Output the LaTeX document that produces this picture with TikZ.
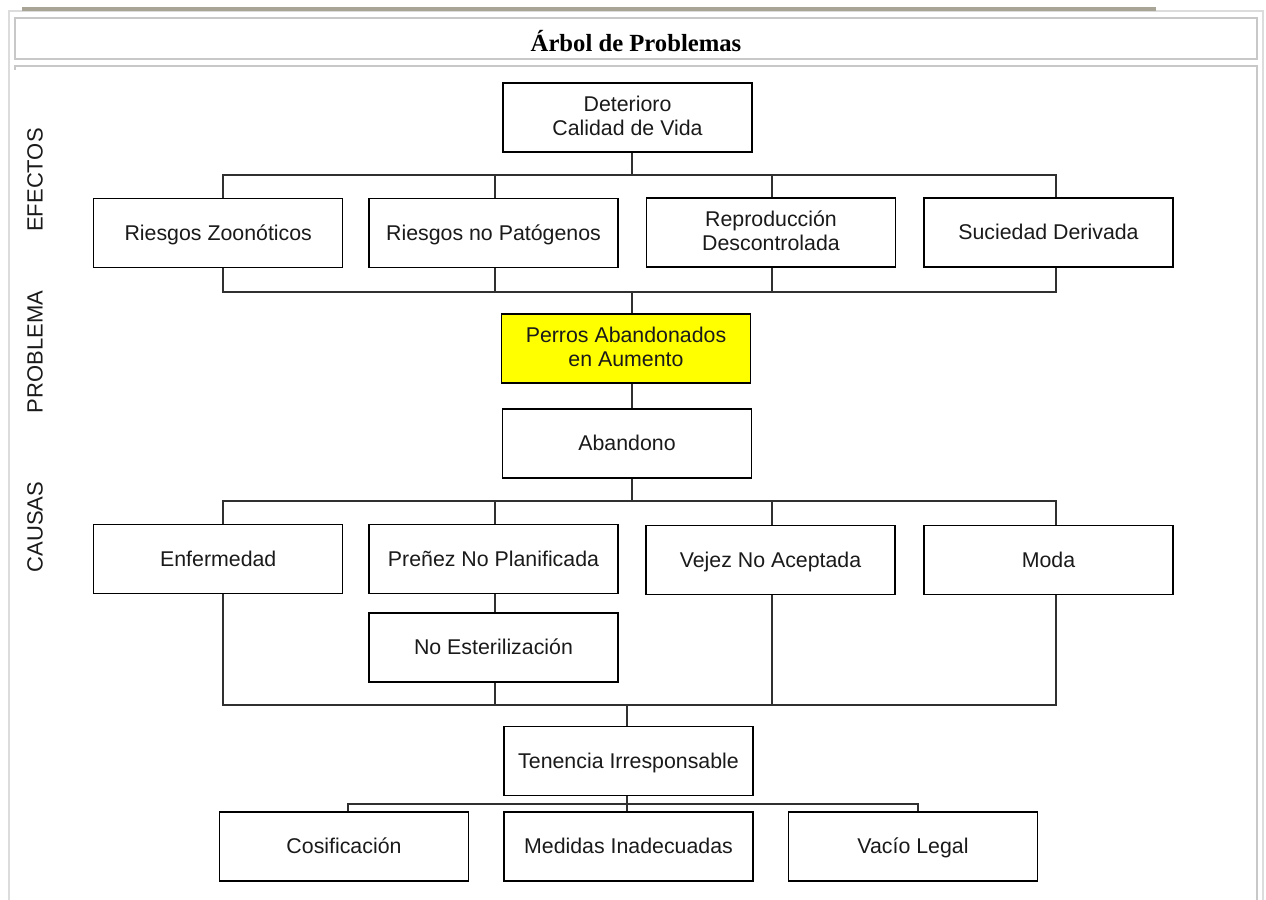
\documentclass[tikz,border=0pt]{standalone}
\usepackage{fontspec}
\setmainfont{Liberation Sans}
\newfontfamily\titlefont{Liberation Serif}
\definecolor{framegray}{HTML}{DCDCDC}
\definecolor{boxgray}{HTML}{C8C8C8}
\definecolor{bargray}{HTML}{A8A596}
\definecolor{linegray}{HTML}{303030}
\definecolor{txtgray}{HTML}{1A1A1A}
\definecolor{probyellow}{HTML}{FFFF00}
\newcommand{\mystrut}{\vphantom{Ág}}
\tikzset{
  bx/.style={draw=black, line width=0.85pt, fill=white, rectangle,
    minimum width=186.75pt, minimum height=51.75pt, inner sep=0pt,
    align=center, text=txtgray,
    execute at begin node=\mystrut, execute at end node=\mystrut,
    font=\fontsize{16}{18}\selectfont},
  prob/.style={bx, fill=probyellow},
  ln/.style={draw=linegray, line width=0.85pt},
  side/.style={rotate=90, text=txtgray, font=\fontsize{16.5}{18}\selectfont, inner sep=0pt},
  ttl/.style={font=\titlefont\bfseries\fontsize{18.5}{22}\selectfont, inner sep=0pt, text=black}
}
\begin{document}
\begin{tikzpicture}[x=0.75pt, y=-0.75pt]
\useasboundingbox (0,0) rectangle (1266,899);
% frames
\draw[framegray, line width=1.4pt] (9,905) -- (9,11) -- (1263,11) -- (1263,905);
\fill[bargray] (22,7) rectangle (1156,11);
\draw[boxgray, line width=1pt] (15,18) rectangle (1257,59);
\draw[boxgray, line width=1pt] (15,70) -- (15,66) -- (1257,66) -- (1257,905);
% title
\node[ttl, anchor=base] (title) at (636,52) {Árbol de Problemas};
% side labels
\node[side] (lefe) at (35,180) {EFECTOS};
\node[side] (lpro) at (35,352) {PROBLEMA};
\node[side] (lcau) at (35,527) {CAUSAS};
% x positions of connectors
\coordinate (vA) at (223,0);
\coordinate (vB) at (495,0);
\coordinate (vC) at (772,0);
\coordinate (vD) at (1056,0);
\coordinate (vS) at (632,0);
\coordinate (vT) at (627,0);
\coordinate (vL) at (348,0);
\coordinate (vR) at (918,0);
% hubs
\coordinate (hE1) at (632,175);
\coordinate (hE2) at (632,292);
\coordinate (hC1) at (632,501);
\coordinate (hC2) at (627,705);
\coordinate (hT) at (627,804);
% nodes
\node[bx] (det) at (627.5,117.5) {Deterioro\\Calidad de Vida};
\node[bx] (rz) at (218.25,233) {Riesgos Zoonóticos};
\node[bx] (rnp) at (493.5,233) {Riesgos no Patógenos};
\node[bx] (rep) at (771,232.5) {Reproducción\\Descontrolada};
\node[bx] (suc) at (1048.5,232.5) {Suciedad Derivada};
\node[prob] (per) at (626,348.5) {Perros Abandonados\\en Aumento};
\node[bx] (aba) at (627,443.5) {Abandono};
\node[bx] (enf) at (218.25,559) {Enfermedad};
\node[bx] (pre) at (493.5,559) {Preñez No Planificada};
\node[bx] (vej) at (770.5,560) {Vejez No Aceptada};
\node[bx] (mod) at (1048.5,560) {Moda};
\node[bx] (nes) at (493.5,647.5) {No Esterilización};
\node[bx] (ten) at (628.5,761) {Tenencia Irresponsable};
\node[bx] (cos) at (344,846.5) {Cosificación};
\node[bx] (med) at (628.5,846.5) {Medidas Inadecuadas};
\node[bx] (vac) at (913,846.5) {Vacío Legal};
% effects top
\draw[ln] (det.south -| vS) -- (hE1);
\draw[ln] (rz.north -| vA) -- (vA |- hE1) -- (vD |- hE1) -- (suc.north -| vD);
\draw[ln] (rnp.north -| vB) -- (vB |- hE1);
\draw[ln] (rep.north -| vC) -- (vC |- hE1);
% effects bottom
\draw[ln] (rz.south -| vA) -- (vA |- hE2) -- (vD |- hE2) -- (suc.south -| vD);
\draw[ln] (rnp.south -| vB) -- (vB |- hE2);
\draw[ln] (rep.south -| vC) -- (vC |- hE2);
\draw[ln] (hE2) -- (per.north -| vS);
% problem
\draw[ln] (per.south -| vS) -- (aba.north -| vS);
% causes top
\draw[ln] (aba.south -| vS) -- (hC1);
\draw[ln] (enf.north -| vA) -- (vA |- hC1) -- (vD |- hC1) -- (mod.north -| vD);
\draw[ln] (pre.north -| vB) -- (vB |- hC1);
\draw[ln] (vej.north -| vC) -- (vC |- hC1);
\draw[ln] (pre.south -| vB) -- (nes.north -| vB);
% causes bottom
\draw[ln] (enf.south -| vA) -- (vA |- hC2) -- (vD |- hC2) -- (mod.south -| vD);
\draw[ln] (nes.south -| vB) -- (vB |- hC2);
\draw[ln] (vej.south -| vC) -- (vC |- hC2);
\draw[ln] (hC2) -- (ten.north -| vT);
% tenencia
\draw[ln] (ten.south -| vT) -- (med.north -| vT);
\draw[ln] (cos.north -| vL) -- (vL |- hT) -- (vR |- hT) -- (vac.north -| vR);
\end{tikzpicture}
\end{document}
